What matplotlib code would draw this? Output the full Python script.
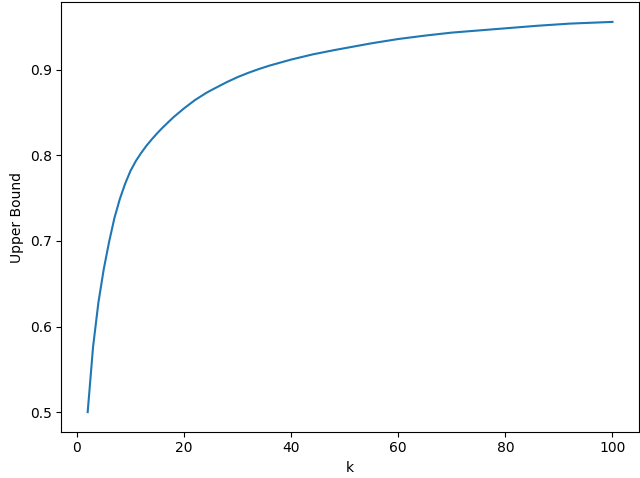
import matplotlib
matplotlib.use("Agg")
import matplotlib.pyplot as plt

# values
k_vals = [2, 3, 4, 5, 6, 7, 8, 9, 10, 11, 12, 13, 14, 15, 16, 17, 18, 20,
          22, 24, 25, 28, 30, 32, 34, 36, 40, 44, 48, 55, 60, 65, 70, 75,
          80, 86, 92, 100]
upper_bound = [0.500, 0.576, 0.628, 0.667, 0.699, 0.727, 0.749, 0.767,
               0.782, 0.7935, 0.803, 0.8115, 0.819, 0.826, 0.8325, 0.8385,
               0.8445, 0.855, 0.8645, 0.8725, 0.876, 0.8857, 0.8915, 0.8965,
               0.901, 0.905, 0.912, 0.918, 0.923, 0.931, 0.936, 0.940,
               0.9435, 0.946, 0.9485, 0.9515, 0.954, 0.956]

fig, ax = plt.subplots(figsize=(6.4, 4.78), dpi=100)
ax.plot(k_vals, upper_bound)
ax.set_xlabel("k")
ax.set_ylabel("Upper Bound")
fig.subplots_adjust(left=0.096, right=0.998, top=0.995, bottom=0.097)
fig.savefig("out.png", dpi=100)
